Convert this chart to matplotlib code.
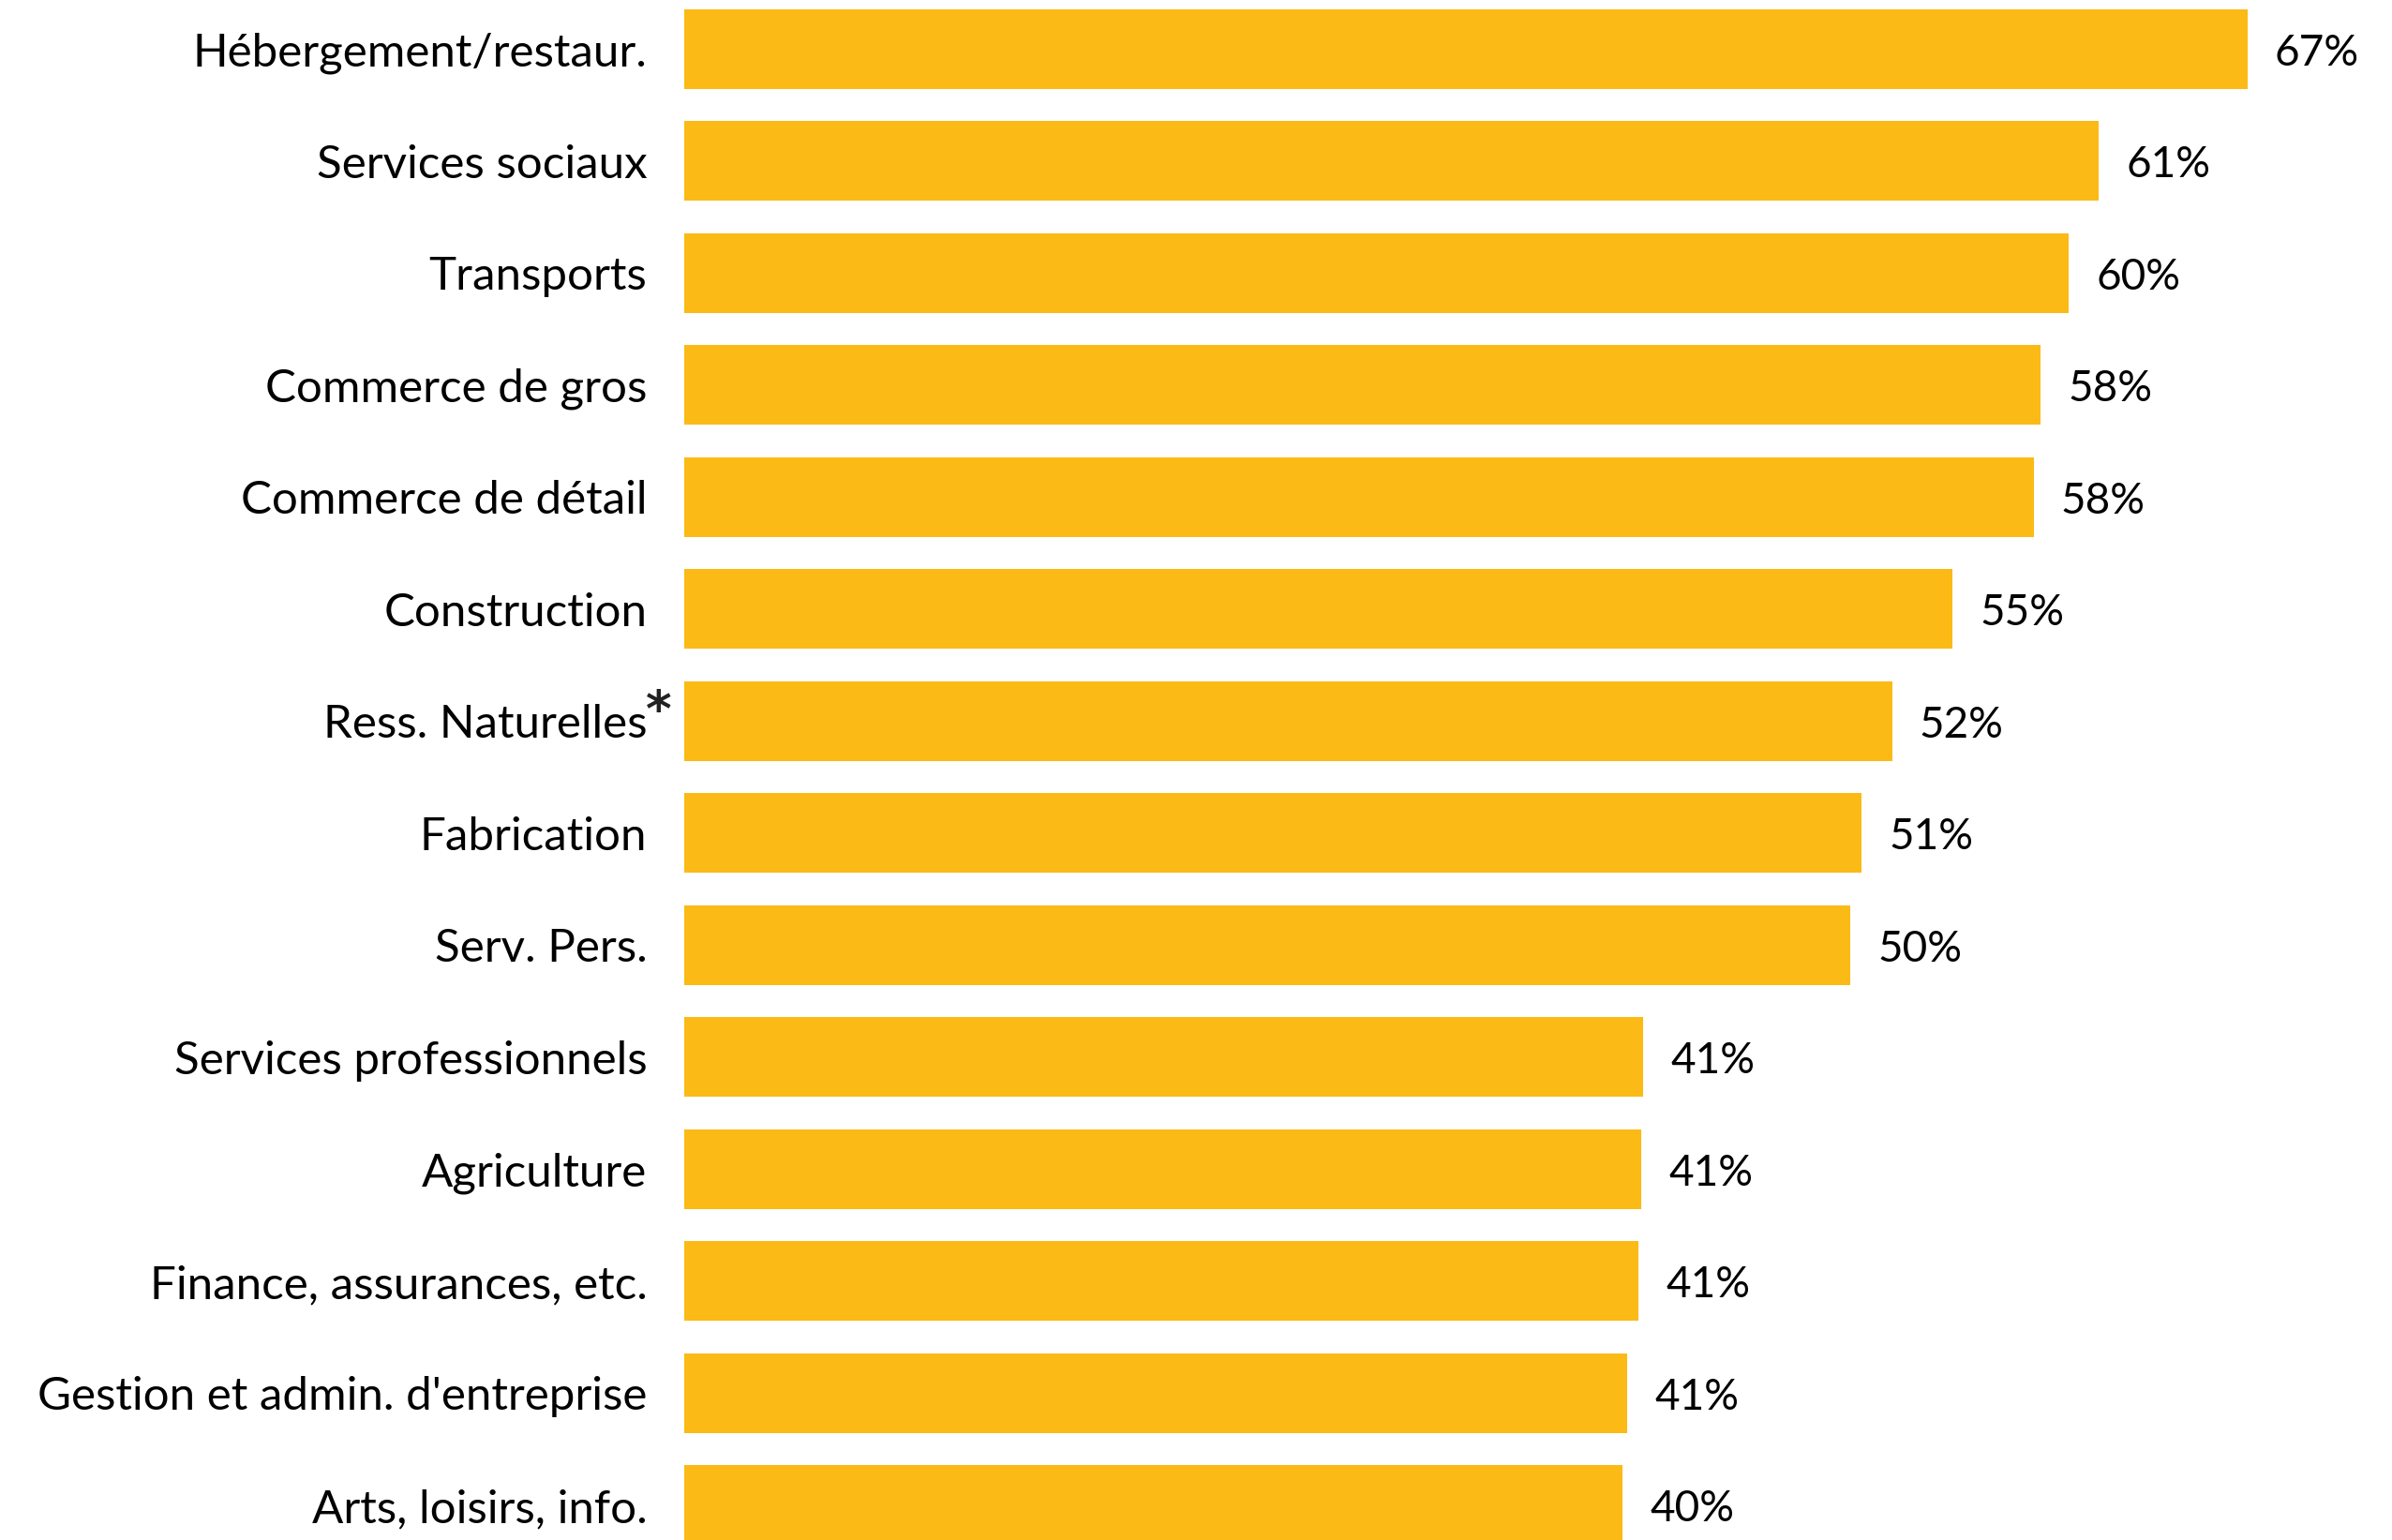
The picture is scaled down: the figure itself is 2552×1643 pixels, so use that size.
import matplotlib
matplotlib.use("Agg")
import matplotlib.pyplot as plt

# secteurs, du plus haut au plus bas
secteurs = [
    "Hébergement/restaur.",
    "Services sociaux",
    "Transports",
    "Commerce de gros",
    "Commerce de détail",
    "Construction",
    "Ress. Naturelles",
    "Fabrication",
    "Serv. Pers.",
    "Services professionnels",
    "Agriculture",
    "Finance, assurances, etc.",
    "Gestion et admin. d'entreprise",
    "Arts, loisirs, info.",
]
valeurs = [67.3, 60.9, 59.6, 58.4, 58.1, 54.6, 52.0, 50.7, 50.2,
           41.3, 41.2, 41.1, 40.6, 40.4]
etiquettes = ["67%", "61%", "60%", "58%", "58%", "55%", "52%", "51%", "50%",
              "41%", "41%", "41%", "41%", "40%"]

plt.rcParams['font.family'] = ['Lato', 'DejaVu Sans']

fig = plt.figure(figsize=(25.52, 16.43), dpi=100)
ax = fig.add_axes([730 / 2552, 0, 1 - 730 / 2552, 1])

pos = list(range(len(secteurs)))
ax.barh(pos, valeurs, height=0.711, color="#FBBA16")

for i, (v, lab) in enumerate(zip(valeurs, etiquettes)):
    ax.annotate(lab, xy=(v, i), xytext=(21, -3), textcoords="offset points",
                ha="left", va="center", fontsize=33, color="black")

ax.set_yticks(pos)
ax.set_yticklabels(secteurs, fontsize=35.5)
ax.tick_params(axis="y", length=0, pad=28.5)
ax.set_xticks([])
ax.set_xlim(0, 1822 / 24.78)
ax.set_ylim(13.31, -0.439)
for spine in ax.spines.values():
    spine.set_visible(False)

# astérisque après Ress. Naturelles
ax.annotate("*", xy=(0, 6), xycoords=("axes fraction", "data"),
            xytext=(-19.5, -4.3), textcoords="offset points",
            ha="center", va="baseline", fontsize=38, fontweight="bold",
            family="DejaVu Sans", color="#222222")

fig.savefig("out.png", dpi=100)
